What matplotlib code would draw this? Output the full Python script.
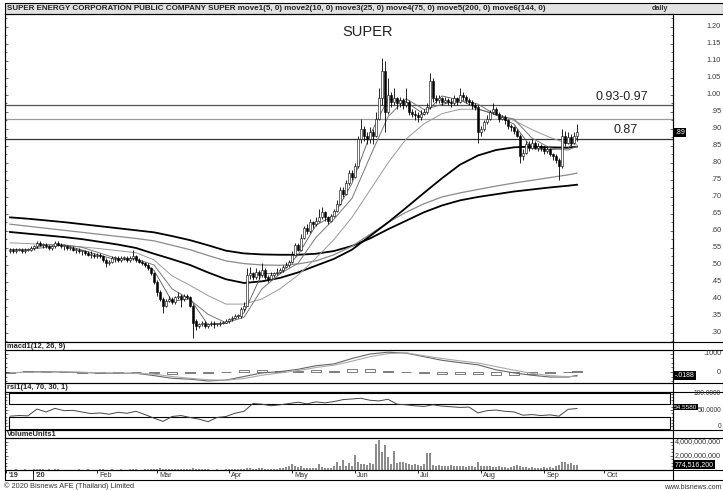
import matplotlib
matplotlib.use("Agg")
import matplotlib.pyplot as plt
import numpy as np
from matplotlib.patches import Rectangle

plt.rcParams['font.family'] = ['Liberation Sans', 'DejaVu Sans']

W, H = 723, 490

# ---- daily bars, index 0 = late Dec 2019 ----
opens = [
    .540, .545, .540, .545, .545, .540, .545, .545, .550, .555,
    .565, .560, .560, .555, .550, .555, .565, .560, .555, .555,
    .550, .550, .545, .545, .540, .540, .535, .530, .530, .525,
    .530, .525, .515, .505, .510, .520, .520, .515, .520, .520,
    .515, .520, .525, .515, .510, .505, .500, .490, .475, .450,
    .420, .400, .380, .395, .400, .390, .405, .410, .400, .410,
    .405, .380, .335, .320, .325, .330, .320, .325, .330, .325,
    .325, .330, .330, .335, .340, .345, .350, .350, .370, .380,
    .470, .475, .465, .480, .470, .485, .465, .460, .470, .475,
    .480, .485, .495, .500, .510, .530, .560, .545, .580, .610,
    .600, .625, .620, .630, .640, .655, .640, .630, .645, .660,
    .680, .720, .710, .740, .770, .760, .790, .870, .900, .880,
    .870, .890, .880, .930, .990, 1.070, .950, 1.000, .980, .990,
    .975, .985, .970, .980, .950, .945, .940, .935, .945, .950,
    .965, 1.040, .990, .985, .990, .980, .985, .980, .975, .990,
    .980, 1.000, .995, .985, .980, .970, .965, .890, .900, .920,
    .930, .950, .960, .945, .930, .935, .925, .910, .905, .895,
    .880, .820, .830, .855, .845, .860, .845, .850, .845, .835,
    .840, .825, .820, .810, .790, .880, .860, .875, .860, .880,
]
highs = [
    .550, .550, .550, .550, .550, .550, .550, .555, .560, .570,
    .570, .565, .565, .560, .560, .570, .570, .565, .560, .560,
    .555, .555, .550, .550, .545, .545, .540, .540, .535, .535,
    .535, .530, .520, .515, .525, .525, .525, .525, .525, .525,
    .525, .545, .530, .520, .515, .510, .505, .495, .480, .455,
    .425, .405, .400, .410, .405, .410, .420, .415, .415, .415,
    .410, .385, .340, .330, .335, .335, .330, .335, .335, .330,
    .335, .335, .340, .345, .350, .355, .355, .375, .390, .490,
    .495, .480, .490, .485, .505, .490, .470, .480, .480, .490,
    .490, .500, .510, .515, .540, .565, .565, .590, .615, .620,
    .635, .630, .640, .665, .670, .660, .645, .650, .665, .690,
    .730, .730, .750, .780, .780, .800, .880, .930, .910, .890,
    .905, .900, .950, 1.020, 1.110, 1.100, 1.050, 1.010, 1.020, .995,
    .995, .990, 1.020, .985, .960, .955, .950, .955, .960, .975,
    1.065, 1.050, 1.000, 1.000, .995, .995, .990, .990, 1.000, .995,
    1.020, 1.010, 1.000, .990, .985, .975, .970, .910, .925, .940,
    .955, .975, .965, .950, .940, .940, .930, .915, .910, .900,
    .885, .840, .865, .865, .870, .865, .860, .855, .850, .850,
    .845, .830, .825, .815, .900, .895, .890, .885, .890, .915,
]
lows = [
    .535, .535, .535, .540, .535, .535, .540, .540, .545, .550,
    .555, .550, .550, .545, .545, .550, .555, .550, .545, .545,
    .545, .540, .535, .535, .530, .530, .525, .520, .520, .520,
    .520, .510, .495, .500, .505, .510, .510, .510, .515, .510,
    .510, .515, .510, .505, .500, .495, .485, .470, .445, .410,
    .395, .360, .375, .390, .385, .385, .400, .375, .395, .400,
    .375, .285, .310, .315, .320, .315, .315, .320, .315, .320,
    .320, .325, .330, .330, .335, .340, .345, .345, .365, .380,
    .460, .455, .460, .460, .465, .460, .450, .455, .465, .470,
    .475, .480, .490, .495, .505, .525, .540, .540, .575, .590,
    .595, .610, .615, .625, .635, .630, .620, .625, .640, .655,
    .675, .700, .705, .735, .750, .755, .785, .860, .865, .855,
    .860, .855, .875, .925, .970, .890, .945, .965, .970, .960,
    .965, .960, .965, .940, .935, .925, .920, .925, .940, .945,
    .960, .980, .975, .975, .970, .975, .970, .965, .970, .970,
    .975, .985, .975, .970, .960, .955, .860, .880, .895, .915,
    .925, .945, .940, .920, .925, .915, .900, .895, .885, .875,
    .800, .810, .825, .835, .840, .840, .835, .835, .825, .830,
    .820, .810, .800, .750, .785, .850, .855, .850, .855, .865,
]
closes = [
    .545, .540, .545, .545, .540, .545, .545, .550, .555, .565,
    .560, .560, .555, .550, .555, .565, .560, .555, .555, .550,
    .550, .545, .545, .540, .540, .535, .530, .530, .525, .530,
    .525, .515, .505, .510, .520, .520, .515, .520, .520, .515,
    .520, .525, .515, .510, .505, .500, .490, .475, .450, .420,
    .400, .380, .395, .400, .390, .405, .410, .400, .410, .405,
    .380, .330, .320, .325, .330, .320, .325, .330, .325, .325,
    .330, .330, .335, .340, .345, .350, .350, .370, .380, .470,
    .475, .465, .480, .470, .485, .465, .460, .470, .475, .480,
    .485, .495, .500, .510, .530, .560, .545, .580, .610, .600,
    .625, .620, .630, .640, .655, .640, .630, .645, .660, .680,
    .720, .710, .740, .770, .760, .790, .870, .900, .880, .870,
    .890, .880, .930, .990, 1.070, .950, 1.000, .980, .990, .975,
    .985, .970, .980, .950, .945, .940, .935, .945, .950, .965,
    1.040, .990, .985, .990, .980, .985, .980, .975, .990, .980,
    1.000, .995, .985, .980, .970, .965, .890, .900, .920, .930,
    .950, .960, .945, .930, .935, .925, .910, .905, .895, .880,
    .820, .830, .855, .845, .860, .845, .850, .845, .835, .840,
    .825, .820, .810, .790, .880, .860, .875, .860, .880, .890,
]
# volume in millions of shares
volume_m = [
    60, 50, 80, 40, 70, 90, 50, 60, 120, 150,
    100, 80, 60, 90, 70, 110, 80, 60, 50, 70,
    60, 50, 70, 80, 60, 50, 90, 70, 60, 50,
    80, 100, 60, 70, 90, 60, 50, 80, 70, 60,
    90, 150, 80, 70, 60, 100, 120, 150, 180, 200,
    220, 180, 150, 120, 100, 130, 110, 140, 100, 90,
    180, 250, 150, 120, 100, 90, 80, 70, 60, 80,
    70, 60, 80, 90, 100, 110, 120, 180, 200, 350,
    250, 200, 180, 220, 300, 150, 120, 180, 160, 200,
    250, 300, 400, 600, 800, 550, 450, 500, 350, 300,
    300, 250, 350, 850, 400, 300, 300, 350, 500, 1200,
    500, 1400, 600, 950, 500, 2200, 1200, 900, 800, 700,
    1000, 800, 3700, 4300, 2500, 3600, 1900, 900, 2700, 1000,
    1100, 1200, 950, 800, 700, 800, 750, 600, 900, 2400,
    2400, 700, 600, 650, 500, 600, 550, 700, 500, 600,
    550, 500, 450, 600, 500, 400, 1200, 600, 500, 550,
    500, 450, 400, 500, 450, 400, 350, 400, 500, 700,
    500, 450, 400, 350, 400, 350, 300, 350, 400, 350,
    400, 350, 500, 700, 1200, 1100, 800, 1000, 650, 774.5162,
]

# ---- moving averages / macd sampled every 6 bars ----
ma_i = [0, 6, 12, 18, 24, 30, 36, 42, 48, 54, 60, 66, 72, 78, 84, 90, 96,
        102, 108, 114, 120, 126, 132, 138, 144, 150, 156, 162, 168, 174, 180, 186, 189]
ma5 = [.545, .544, .559, .559, .544, .528, .514, .519, .484, .393, .401, .324, .329, .359, .475, .474, .529,
       .617, .646, .740, .882, .988, .980, .943, .997, .985, .959, .941, .914, .842, .839, .843, .873]
ma10 = [.545, .545, .552, .559, .552, .535, .518, .518, .500, .430, .398, .355, .330, .346, .430, .474, .505,
        .581, .635, .696, .818, .936, .989, .957, .972, .985, .973, .941, .929, .873, .844, .838, .849]
ma25 = [.565, .563, .560, .558, .553, .548, .542, .536, .515, .468, .440, .410, .385, .385, .400, .430, .470,
        .520, .575, .640, .720, .800, .870, .915, .945, .958, .958, .945, .925, .898, .875, .857, .855]
ma75 = [.597, .592, .587, .582, .576, .568, .560, .550, .533, .517, .500, .478, .458, .447, .452, .462, .478,
        .498, .518, .545, .585, .625, .668, .712, .755, .795, .822, .838, .846, .848, .846, .845, .848]
ma144 = [.620, .614, .608, .602, .596, .590, .584, .578, .571, .558, .545, .528, .512, .504, .500, .499, .503,
         .512, .530, .555, .590, .625, .655, .680, .700, .712, .722, .732, .741, .749, .757, .765, .770]
ma200 = [.640, .636, .631, .626, .620, .614, .608, .602, .596, .585, .573, .558, .542, .534, .531, .530, .530,
         .533, .541, .556, .578, .605, .630, .655, .675, .690, .700, .708, .716, .722, .728, .733, .736]

macd_line = [-.005, .000, .002, .000, -.003, -.006, -.008, -.007, -.020, -.035, -.040, -.050, -.045, -.025,
             -.005, .002, .015, .035, .045, .075, .100, .110, .105, .085, .065, .052, .040, .012, -.005,
             -.018, -.028, -.028, -.019]
macd_signal = [-.004, -.002, .000, .001, -.001, -.004, -.006, -.007, -.012, -.025, -.035, -.043, -.046, -.036,
               -.018, -.005, .008, .025, .038, .060, .085, .102, .107, .090, .075, .062, .050, .030, .010,
               -.008, -.020, -.026, -.025]
macd_hist = [-.003, .003, .004, -.002, -.003, -.003, -.003, .000, -.008, -.010, -.006, -.007, .001, .011,
             .013, .007, .007, .010, .007, .015, .015, .008, -.002, -.005, -.010, -.010, -.010, -.018,
             -.015, -.010, -.008, -.002, .006]

# ---- rsi sampled every 3 bars ----
rsi_i = list(range(0, 190, 3))
rsi = [31, 33, 32, 53, 44, 55, 48, 49, 44, 39,
       41, 37, 43, 40, 46, 36, 25, 15, 30, 33,
       27, 22, 14, 27, 30, 40, 46, 70, 68, 63,
       66, 70, 74, 69, 75, 72, 76, 82, 84, 86,
       80, 78, 83, 68, 66, 63, 61, 66, 62, 60,
       58, 59, 41, 48, 50, 46, 44, 34, 36, 33,
       35, 31, 52, 54.558]

levels = [0.97, 0.93, 0.87]
level_colors = ['#555555', '#999999', '#333333']
price_ticks = [round(0.30 + 0.05 * k, 2) for k in range(19)]
month_pos = [-1.2, 7.7, 29, 49, 73, 94, 115, 136, 157, 178, 198]
month_lab = ["'19", "'20", 'Feb', 'Mar', 'Apr', 'May', 'Jun', 'Jul', 'Aug', 'Sep', 'Oct']

header = ('SUPER ENERGY CORPORATION PUBLIC COMPANY SUPER move1(5, 0) move2(10, 0) '
          'move3(25, 0) move4(75, 0) move5(200, 0) move6(144, 0)')


def px(x0, y0, x1, y1):
    return [x0 / W, 1 - y1 / H, (x1 - x0) / W, (y1 - y0) / H]


fig = plt.figure(figsize=(W / 100, H / 100), dpi=100)

# page frame, header bands (pixel coordinates)
bg = fig.add_axes([0, 0, 1, 1], zorder=0)
bg.set_xlim(0, W)
bg.set_ylim(H, 0)
bg.axis('off')
bands = [(3, 14, '#e2e2e2'), (342, 350, 'white'), (383, 392, 'white'), (430, 438, 'white')]
for y0, y1, fc in bands:
    bg.add_patch(Rectangle((5, y0), W - 5, y1 - y0, facecolor=fc, edgecolor='black', lw=0.8))
for yl in [470, 480]:
    bg.plot([5, W], [yl, yl], color='black', lw=0.8)
bg.plot([673, 673], [14, 480], color='black', lw=0.8)
bg.plot([5, 5], [14, 480], color='black', lw=0.8)
bg.text(7, 8.5, header, fontsize=5.8, fontweight='bold', va='center', ha='left', color='#222222')
bg.text(668, 9, 'daily', fontsize=5.2, fontweight='bold', va='center', ha='right', color='#333333')
bg.text(368, 32, 'SUPER', fontsize=10.5, ha='center', va='center', color='#222222')
bg.text(7, 346, 'macd1(12, 26, 9)', fontsize=5.4, fontweight='bold', va='center', color='#222222')
bg.text(7, 387.5, 'rsi1(14, 70, 30, 1)', fontsize=5.4, fontweight='bold', va='center', color='#222222')
bg.text(7, 434, 'VolumeUnits1', fontsize=5.4, fontweight='bold', va='center', color='#222222')
bg.text(4, 486, '\u00a9 2020 Bisnews AFE (Thailand) Limited', fontsize=5.3, va='center', color='#333333')
bg.text(722, 487, 'www.bisnews.com', fontsize=5, va='center', ha='right', color='#333333')

xmin, xmax = (5 - 10) / 3, (673 - 10) / 3
idx = np.arange(len(closes))
o = np.array(opens)
c = np.array(closes)
lab_x = 1 + 48 / 668


def style(a):
    a.set_facecolor('none')
    a.set_xlim(xmin, xmax)
    a.set_xticks([])
    for s in a.spines.values():
        s.set_linewidth(0.8)
    a.tick_params(axis='y', which='both', direction='in', left=True, right=True,
                  labelleft=False, labelright=False, width=0.5, length=2.5, colors='#333333')
    a.tick_params(axis='y', which='minor', length=1.5)


# ---- price panel ----
ax = fig.add_axes(px(5, 14, 673, 342))
style(ax)
ax.set_ylim(0.2735, 1.238)
ax.set_yticks(price_ticks)
ax.set_yticks(np.arange(0.275, 1.23, 0.025), minor=True)

for lv, lc in zip(levels, level_colors):
    ax.axhline(lv, color=lc, lw=0.9)
ax.text(195, 0.994, '0.93-0.97', fontsize=9, color='#222222', va='center')
ax.text(201.3, 0.897, '0.87', fontsize=9, color='#222222', va='center')

ax.plot(ma_i, ma200, color='black', lw=1.3)
ax.plot(ma_i, ma144, color='#8a8a8a', lw=0.9)
ax.plot(ma_i, ma75, color='black', lw=1.3)
ax.plot(ma_i, ma25, color='#9a9a9a', lw=0.7)
ax.plot(ma_i, ma10, color='#777777', lw=0.7)
ax.plot(ma_i, ma5, color='#555555', lw=0.6)

ax.vlines(idx, lows, highs, color='black', lw=0.6)
up = c >= o
body = np.maximum(np.abs(c - o), 0.003)
ax.bar(idx, body, bottom=np.minimum(o, c), width=0.65,
       color=np.where(up, 'white', 'black'), edgecolor='black', linewidth=0.4, zorder=3)

yt = ax.get_yaxis_transform()
for t in price_ticks:
    s = ('%.2f' % t) if t >= 1 else ('%.2f' % t)[1:]
    ax.text(lab_x, t, s, transform=yt, fontsize=5.2, ha='right', va='center', color='#333333')
ax.text(1 + 2 / 668, closes[-1], ('%.2f' % closes[-1])[1:], transform=yt, fontsize=5, ha='left',
        va='center', color='white', bbox=dict(facecolor='black', edgecolor='none', pad=0.8))

# ---- macd panel ----
am = fig.add_axes(px(5, 350, 673, 383))
style(am)
am.set_ylim(-0.0611, 0.1222)
am.set_yticks([0, 0.1])
am.set_yticks(np.arange(-0.05, 0.121, 0.025), minor=True)
am.bar(ma_i, macd_hist, width=3.5, facecolor='white', edgecolor='#333333', linewidth=0.45)
am.plot(ma_i, macd_line, color='#666666', lw=0.8)
am.plot(ma_i, macd_signal, color='#aaaaaa', lw=0.8)
mt = am.get_yaxis_transform()
am.text(lab_x, 0.1, '.1000', transform=mt, fontsize=5.2, ha='right', va='center', color='#333333')
am.text(lab_x, 0.0, '0', transform=mt, fontsize=5.2, ha='right', va='center', color='#333333')
am.text(1 + 2 / 668, macd_line[-1], '-.0188', transform=mt, fontsize=5, ha='left', va='center',
        color='white', bbox=dict(facecolor='black', edgecolor='none', pad=0.8))

# ---- rsi panel ----
ar = fig.add_axes(px(5, 392, 673, 430))
style(ar)
ar.set_ylim(-11.5, 105.4)
ar.set_yticks([0, 50, 100])
ar.set_yticks(np.arange(-10, 105, 10), minor=True)
ar.add_patch(Rectangle((-0.33, 70), 220.3, 32, facecolor='none', edgecolor='black', lw=0.8))
ar.add_patch(Rectangle((-0.33, -8), 220.3, 38, facecolor='none', edgecolor='black', lw=0.8))
ar.plot(rsi_i, rsi, color='#444444', lw=0.7)
rt = ar.get_yaxis_transform()
for v, s in [(100, '100.0000'), (50, '50.0000'), (0, '0')]:
    ar.text(lab_x, v, s, transform=rt, fontsize=4.8, ha='right', va='center', color='#333333')
ar.text(1 + 1 / 668, rsi[-1] + 4, '%.4f' % rsi[-1], transform=rt, fontsize=4.6, ha='left', va='center',
        color='white', bbox=dict(facecolor='black', edgecolor='none', pad=0.5))

# ---- volume panel ----
av = fig.add_axes(px(5, 438, 673, 470))
style(av)
av.set_ylim(0, 4570)
av.set_yticks([0, 2000, 4000])
av.set_yticks(np.arange(0, 4500, 500), minor=True)
av.bar(idx, volume_m, width=0.45, color='#8c8c8c')
vt = av.get_yaxis_transform()
for v, s in [(4000, '4,000,000,000'), (2000, '2,000,000,000')]:
    av.text(lab_x, v, s, transform=vt, fontsize=5.2, ha='right', va='center', color='#333333')
av.text(1 + 2 / 668, volume_m[-1], '774,516,200', transform=vt, fontsize=5, ha='left', va='center',
        color='white', bbox=dict(facecolor='black', edgecolor='none', pad=0.8))

# ---- date row ----
ad = fig.add_axes(px(5, 470, 673, 480))
ad.set_facecolor('none')
ad.set_xlim(xmin, xmax)
ad.set_ylim(0, 1)
ad.axis('off')
ad.vlines(month_pos, 0.7, 1.0, color='black', lw=0.6)
ad.vlines([7.7], 0, 1.0, color='black', lw=0.6)
for p, lab in zip(month_pos, month_lab):
    ad.text(p + 0.8, 0.45, lab, fontsize=5.2, ha='left', va='center', color='#333333',
            fontweight='bold' if lab.startswith("'") else 'normal')

fig.savefig('out.png', dpi=100)
